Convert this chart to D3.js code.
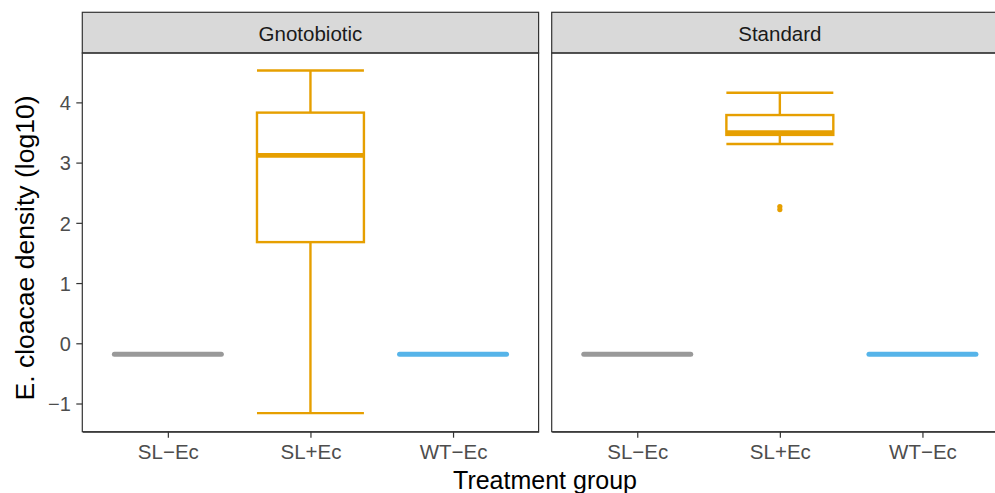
<!DOCTYPE html>
<html><head><meta charset="utf-8">
<script src="https://cdn.jsdelivr.net/npm/d3@7"></script>
<style>body{margin:0;background:#fff;}svg{display:block;font-family:"Liberation Sans",Arial,sans-serif;}</style>
</head><body>
<script>
const facets = ["Gnotobiotic", "Standard"];
const groups = ["SL\u2212Ec", "SL+Ec", "WT\u2212Ec"];
const groupColors = ["#999999", "#E69F00", "#56B4E9"];
const yTicks = [-1, 0, 1, 2, 3, 4];
// per facet, per group
const whiskerLow  = [[-0.18, -1.16, -0.18], [-0.18, 3.31, -0.18]];
const q1          = [[-0.18,  1.68, -0.18], [-0.18, 3.46, -0.18]];
const median      = [[-0.18,  3.12, -0.18], [-0.18, 3.50, -0.18]];
const q3          = [[-0.18,  3.83, -0.18], [-0.18, 3.79, -0.18]];
const whiskerHigh = [[-0.18,  4.53, -0.18], [-0.18, 4.16, -0.18]];
const outliers    = [[[], [], []], [[], [2.27, 2.22], []]];

const W = 995, H = 493;
const svg = d3.select("body").append("svg").attr("width", W).attr("height", H);

const panelTop = 53, panelBottom = 431.7, stripTop = 12.3;
const panelLefts = [82.3, 551.7], panelWidth = 456.3;
const FONT = "Liberation Sans, Arial, sans-serif";

const y = d3.scaleLinear().domain([-1.468, 4.82]).range([panelBottom, panelTop]);

facets.forEach((f, fi) => {
  const x0 = panelLefts[fi];
  const x = d3.scaleLinear().domain([0.4, 3.6]).range([x0, x0 + panelWidth]);
  const unit = panelWidth / 3.2;
  const bw = 0.75 * unit;
  const g = svg.append("g");

  // strip
  g.append("rect").attr("x", x0).attr("y", stripTop).attr("width", panelWidth).attr("height", panelTop - stripTop)
    .attr("fill", "#d9d9d9").attr("stroke", "#333333").attr("stroke-width", 1.2);
  g.append("text").attr("x", x0 + panelWidth / 2).attr("y", 40.5)
    .attr("text-anchor", "middle").attr("font-size", 20.5).attr("fill", "#1a1a1a").text(f);

  // panel border
  g.append("rect").attr("x", x0).attr("y", panelTop).attr("width", panelWidth).attr("height", panelBottom - panelTop)
    .attr("fill", "none").attr("stroke", "#333333").attr("stroke-width", 1.2);

  // boxes
  groups.forEach((grp, gi) => {
    const cx = x(gi + 1), col = groupColors[gi];
    const flat = q1[fi][gi] === q3[fi][gi];
    const bg = g.append("g").attr("stroke", col).attr("fill", "none");
    if (!flat) {
      bg.append("line").attr("x1", cx).attr("x2", cx).attr("y1", y(q3[fi][gi])).attr("y2", y(whiskerHigh[fi][gi])).attr("stroke-width", 2.4);
      bg.append("line").attr("x1", cx).attr("x2", cx).attr("y1", y(q1[fi][gi])).attr("y2", y(whiskerLow[fi][gi])).attr("stroke-width", 2.4);
      [whiskerHigh[fi][gi], whiskerLow[fi][gi]].forEach(v => {
        bg.append("line").attr("x1", cx - bw / 2).attr("x2", cx + bw / 2).attr("y1", y(v)).attr("y2", y(v)).attr("stroke-width", 2.4);
      });
      bg.append("rect").attr("x", cx - bw / 2).attr("width", bw)
        .attr("y", y(q3[fi][gi])).attr("height", y(q1[fi][gi]) - y(q3[fi][gi]))
        .attr("fill", "#fff").attr("stroke-width", 2.4);
    }
    bg.append("line").attr("x1", cx - bw / 2).attr("x2", cx + bw / 2)
      .attr("y1", y(median[fi][gi])).attr("y2", y(median[fi][gi])).attr("stroke-width", flat ? 5 : 4.6)
      .attr("stroke-linecap", flat ? "round" : "butt");
    outliers[fi][gi].forEach(v => {
      bg.append("circle").attr("cx", cx).attr("cy", y(v)).attr("r", 2.6).attr("fill", col).attr("stroke", "none");
    });
  });

  // x axis
  const xa = g.append("g").attr("transform", `translate(0,${panelBottom})`)
    .call(d3.axisBottom(x).tickValues([1, 2, 3]).tickFormat(d => groups[d - 1]).tickSize(6).tickSizeOuter(0));
  xa.select(".domain").attr("stroke", "#333333").attr("stroke-width", 1.2);
  xa.selectAll(".tick line").attr("stroke", "#333333").attr("stroke-width", 1.2);
  xa.selectAll(".tick text").attr("font-size", 20.5).attr("fill", "#4d4d4d").attr("dy", null).attr("y", 27.5)
    .attr("font-family", FONT);

  if (fi === 0) {
    const ya = g.append("g").attr("transform", `translate(${x0},0)`)
      .call(d3.axisLeft(y).tickValues(yTicks).tickFormat(d => d < 0 ? "\u2212" + Math.abs(d) : d).tickSize(6).tickSizeOuter(0));
    ya.select(".domain").remove();
    ya.selectAll(".tick line").attr("stroke", "#333333").attr("stroke-width", 1.2);
    ya.selectAll(".tick text").attr("font-size", 20).attr("fill", "#4d4d4d").attr("x", -11.5).attr("dy", "0.36em")
      .attr("font-family", FONT);
  }
});

svg.append("text").attr("x", 545).attr("y", 489).attr("text-anchor", "middle")
  .attr("font-size", 25).attr("fill", "#000").text("Treatment group");
svg.append("text").attr("transform", `translate(33.5,248) rotate(-90)`)
  .attr("text-anchor", "middle").attr("font-size", 26.5).attr("fill", "#000").text("E. cloacae density (log10)");
</script>
</body></html>
